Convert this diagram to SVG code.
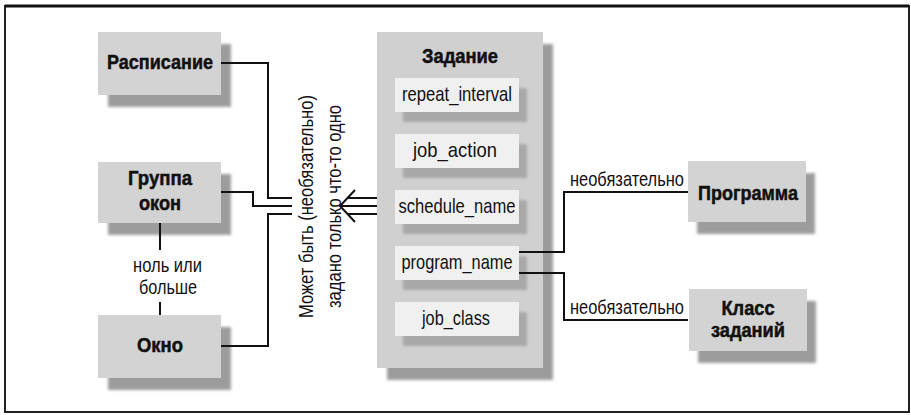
<svg xmlns="http://www.w3.org/2000/svg" width="911" height="415" viewBox="0 0 911 415">
<style>
text{font-family:"Liberation Sans Narrow","Liberation Sans",Arial,sans-serif;fill:#111}
.b{font-weight:bold;font-size:20px;stroke:#111;stroke-width:0.5}
.r{font-size:21px}
.node{fill:#d3d3d3}
.cont{fill:#d0d0d0}
.inner{fill:#f0f0f0}
.sh{fill:#9c9c9c;filter:url(#blur)}
.ish{fill:#a8a8a8;filter:url(#blur)}
.ln{fill:none;stroke:#111;stroke-width:2}
</style>
<defs>
<filter id="blur" x="-10%" y="-10%" width="120%" height="130%"><feGaussianBlur stdDeviation="1.5"/></filter>
</defs>
<rect x="5" y="6" width="904" height="406" fill="#fff" stroke="#222" stroke-width="2"/>
<line x1="5" y1="6" x2="909" y2="6" stroke="#111" stroke-width="3"/>

<g id="raspisanie">
<rect class="sh" x="108" y="44" width="123" height="63"/>
<rect class="node" x="98" y="32" width="123" height="63"/>
<text class="b" x="160" y="69" text-anchor="middle" textLength="106" lengthAdjust="spacingAndGlyphs">Расписание</text>
</g>
<g id="gruppa">
<rect class="sh" x="108" y="174" width="123" height="61"/>
<rect class="node" x="98" y="162" width="123" height="61"/>
<text class="b" x="160" y="185" text-anchor="middle" textLength="64" lengthAdjust="spacingAndGlyphs">Группа</text>
<text class="b" x="160" y="210" text-anchor="middle" textLength="42" lengthAdjust="spacingAndGlyphs">окон</text>
</g>
<g id="okno">
<rect class="sh" x="108" y="327" width="123" height="63"/>
<rect class="node" x="98" y="315" width="123" height="63"/>
<text class="b" x="160" y="352" text-anchor="middle" textLength="46" lengthAdjust="spacingAndGlyphs">Окно</text>
</g>
<g id="zadanie">
<rect class="sh" x="387" y="44" width="166" height="336"/>
<rect class="cont" x="377" y="32" width="166" height="336"/>
<text class="b" x="460" y="63" text-anchor="middle" textLength="76" lengthAdjust="spacingAndGlyphs">Задание</text>
<g id="repeat_interval">
<rect class="ish" x="403" y="88" width="124" height="34"/>
<rect class="inner" x="395" y="78" width="124" height="34"/>
<text class="r" x="457" y="101" text-anchor="middle" textLength="110" lengthAdjust="spacingAndGlyphs">repeat_interval</text>
</g>
<g id="job_action">
<rect class="ish" x="403" y="144" width="124" height="34"/>
<rect class="inner" x="395" y="134" width="124" height="34"/>
<text class="r" x="455" y="157" text-anchor="middle" textLength="84" lengthAdjust="spacingAndGlyphs">job_action</text>
</g>
<g id="schedule_name">
<rect class="ish" x="403" y="200" width="124" height="34"/>
<rect class="inner" x="395" y="190" width="124" height="34"/>
<text class="r" x="457" y="213" text-anchor="middle" textLength="117" lengthAdjust="spacingAndGlyphs">schedule_name</text>
</g>
<g id="program_name">
<rect class="ish" x="403" y="256" width="124" height="34"/>
<rect class="inner" x="395" y="246" width="124" height="34"/>
<text class="r" x="457" y="269" text-anchor="middle" textLength="111" lengthAdjust="spacingAndGlyphs">program_name</text>
</g>
<g id="job_class">
<rect class="ish" x="403" y="312" width="124" height="34"/>
<rect class="inner" x="395" y="302" width="124" height="34"/>
<text class="r" x="456" y="325" text-anchor="middle" textLength="68" lengthAdjust="spacingAndGlyphs">job_class</text>
</g>
</g>
<g id="programma">
<rect class="sh" x="697" y="173" width="118" height="61"/>
<rect class="node" x="688" y="161" width="118" height="61"/>
<text class="b" x="748" y="200" text-anchor="middle" textLength="100" lengthAdjust="spacingAndGlyphs">Программа</text>
</g>
<g id="klass">
<rect class="sh" x="698" y="301" width="118" height="62"/>
<rect class="node" x="689" y="289" width="118" height="62"/>
<text class="b" x="748" y="315" text-anchor="middle" textLength="53" lengthAdjust="spacingAndGlyphs">Класс</text>
<text class="b" x="748" y="337" text-anchor="middle" textLength="74" lengthAdjust="spacingAndGlyphs">заданий</text>
</g>

<g id="connectors">
<path class="ln" d="M221,63 H268 V198 H292"/>
<path class="ln" d="M221,192 H253 V206 H292"/>
<path class="ln" d="M221,346 H268 V214 H292"/>
<path class="ln" d="M160,223 V250 M160,302 V315"/>
<path class="ln" d="M347,198 H377 M340,206 H377 M347,214 H377"/>
<path class="ln" d="M355,190 L340,206 L355,222"/>
<path class="ln" d="M519,252 H564 V192 H688"/>
<path class="ln" d="M519,273 H564 V320 H688"/>
<text class="r" x="167.5" y="272" text-anchor="middle" textLength="69" lengthAdjust="spacingAndGlyphs">ноль или</text>
<text class="r" x="168" y="294" text-anchor="middle" textLength="58" lengthAdjust="spacingAndGlyphs">больше</text>
<text class="r" x="627" y="186" text-anchor="middle" textLength="114" lengthAdjust="spacingAndGlyphs">необязательно</text>
<text class="r" x="627" y="314" text-anchor="middle" textLength="114" lengthAdjust="spacingAndGlyphs">необязательно</text>
<text class="r" transform="translate(313,206.5) rotate(-90)" text-anchor="middle" textLength="223" lengthAdjust="spacingAndGlyphs">Может быть (необязательно)</text>
<text class="r" transform="translate(341,206.5) rotate(-90)" text-anchor="middle" textLength="203" lengthAdjust="spacingAndGlyphs">задано только что-то одно</text>
</g>
</svg>
